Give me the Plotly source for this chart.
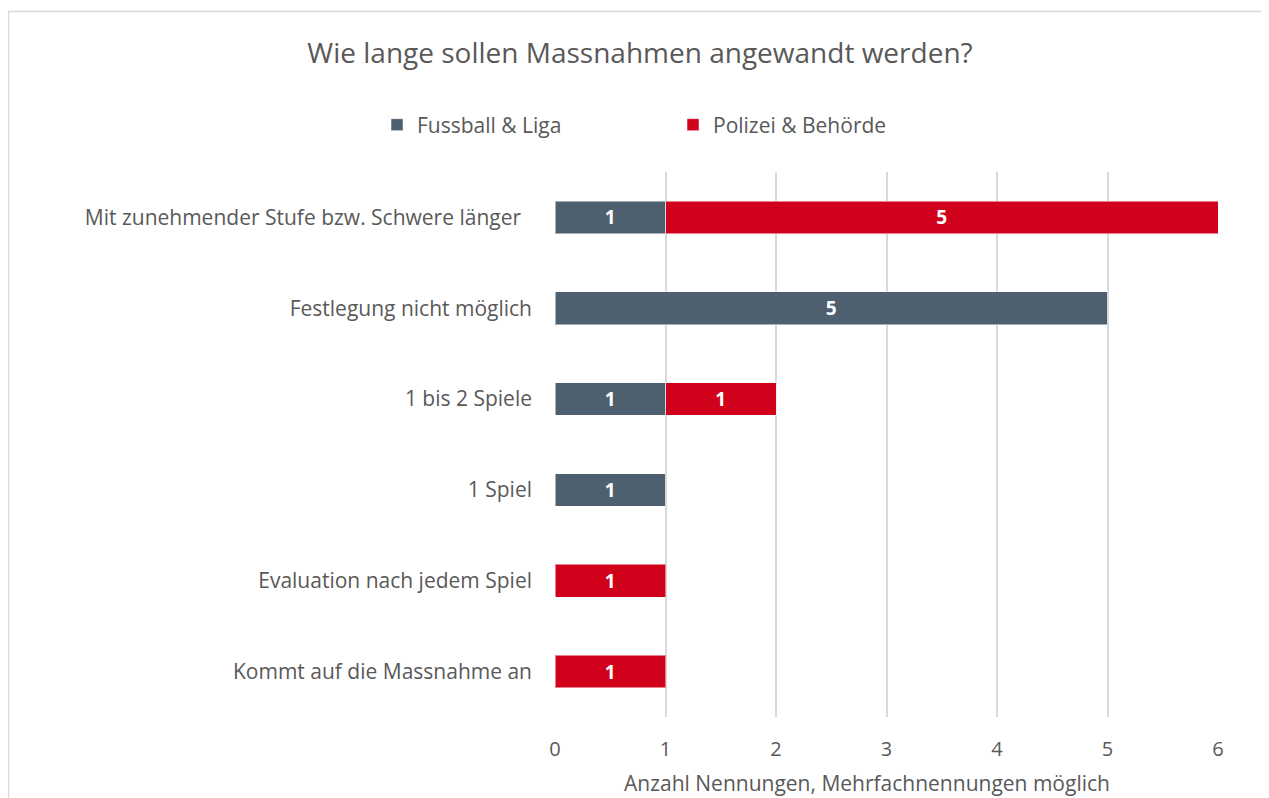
import plotly.graph_objects as go

categories = [
    "Mit zunehmender Stufe bzw. Schwere länger\u00a0\u00a0",
    "Festlegung nicht möglich",
    "1 bis 2 Spiele",
    "1 Spiel",
    "Evaluation nach jedem Spiel",
    "Kommt auf die Massnahme an",
]
fussball = [1, 5, 1, 1, 0, 0]
polizei = [5, 0, 1, 0, 1, 1]
series_names = ["Fussball & Liga", "Polizei & Behörde"]
colors = ["#4E5F6F", "#D0021B"]
x_ticks = [0, 1, 2, 3, 4, 5, 6]

FONT = "Open Sans"
TXT = "#595959"
OFF = 8  # page body margin offset

fig = go.Figure()
for name, vals, col in zip(series_names, [fussball, polizei], colors):
    fig.add_trace(go.Bar(
        y=categories, x=vals, name=name, orientation="h",
        marker=dict(color=col, line=dict(color="rgba(255,255,255,0.5)", width=1)),
        text=[str(v) if v else "" for v in vals],
        textposition="inside", insidetextanchor="middle",
        textfont=dict(color="white", size=19, family=FONT, weight="bold"),
        width=0.36,
    ))

W, H = 1269, 798
L, R, T, B = 555 - OFF, 1218 - OFF, 172 - OFF, 717 - OFF
pw, ph = R - L, B - T

def px(x):
    return (x - OFF - L) / pw

def py(y):
    return (B - (y - OFF)) / ph

fig.update_layout(
    width=W, height=H,
    barmode="stack",
    plot_bgcolor="white", paper_bgcolor="white",
    margin=dict(l=L, r=W - R, t=T, b=H - B),
    font=dict(family=FONT, color=TXT, size=20),
    title=dict(text="Wie lange sollen Massnahmen angewandt werden?",
               x=(640 - OFF) / W, xanchor="center", y=1 - (53 - OFF) / H, yanchor="middle",
               yref="container", font=dict(size=28, color=TXT, family=FONT)),
    legend=dict(orientation="h", x=px(377), xanchor="left", y=py(125), yanchor="middle",
                font=dict(size=21, color=TXT), entrywidth=251, entrywidthmode="pixels",
                itemwidth=30, traceorder="normal"),
    xaxis=dict(range=[0, 6], tickvals=x_ticks, showgrid=True, gridcolor="#D9D9D9", gridwidth=2,
               zeroline=False, showline=False, tickfont=dict(size=20, color=TXT),
               ticks="", ticklabelstandoff=18, fixedrange=True),
    yaxis=dict(categoryorder="array", categoryarray=categories, autorange="reversed",
               showgrid=False, zeroline=False, showline=False, ticks="",
               tickfont=dict(size=21, color=TXT), ticklabelstandoff=22),
    showlegend=True,
)

fig.add_annotation(text="Anzahl Nennungen, Mehrfachnennungen möglich",
                   x=px(867), y=py(783), xref="paper", yref="paper",
                   xanchor="center", yanchor="middle", showarrow=False,
                   font=dict(size=21, color=TXT, family=FONT))

fig.add_shape(type="rect", xref="paper", yref="paper",
              x0=px(8.5), x1=px(1265.5), y0=py(830), y1=py(11.5),
              line=dict(color="#D9D9D9", width=1.5), fillcolor="rgba(0,0,0,0)", layer="below")

fig.write_html("out.html")
